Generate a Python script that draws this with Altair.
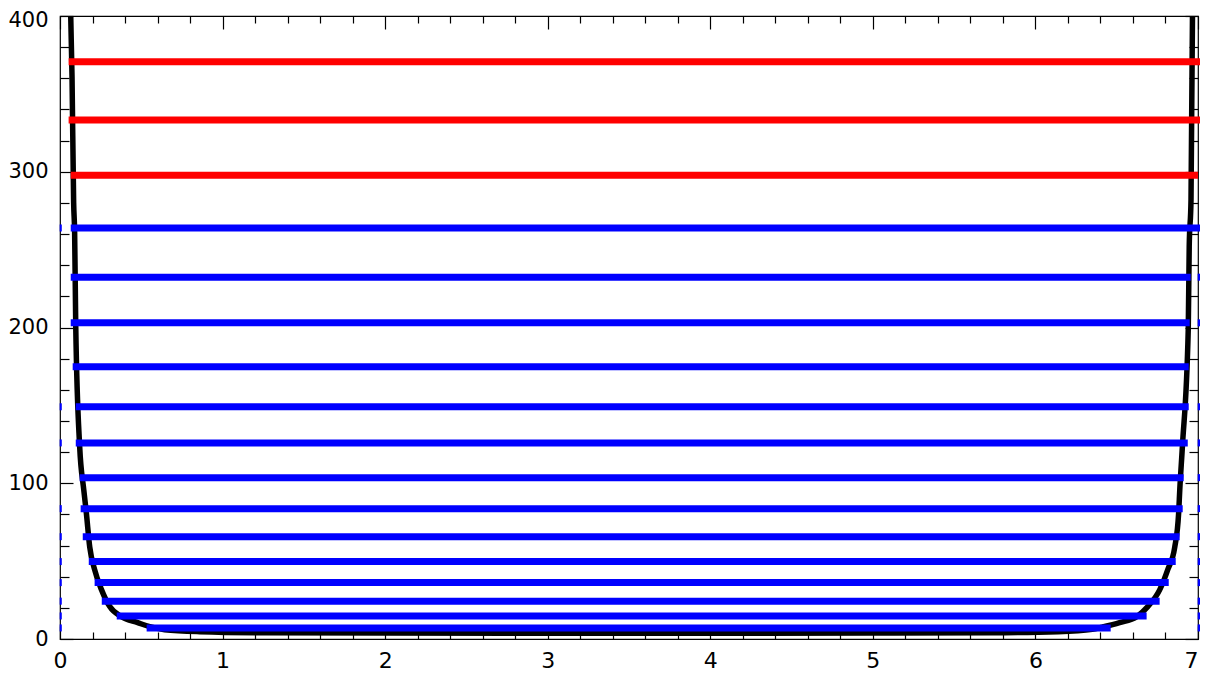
import altair as alt
import pandas as pd

# ---------------- data ----------------
# energy levels: value, left end, right end, colour class
level_E = [370.7, 333.3, 297.8, 263.9, 232.3, 203.0, 174.8, 149.1, 125.9,
           103.6, 83.7, 65.7, 49.7, 36.2, 24.3, 14.8, 7.1]
level_x1 = [0.053, 0.053, 0.066, 0.066, 0.066, 0.066, 0.078, 0.097, 0.097,
            0.121, 0.127, 0.140, 0.177, 0.213, 0.257, 0.349, 0.533]
level_x2 = [7.017, 7.017, 7.000, 7.017, 6.955, 6.949, 6.943, 6.943, 6.937,
            6.912, 6.906, 6.887, 6.863, 6.820, 6.764, 6.684, 6.463]
level_kind = ["red", "red", "red", "blue", "blue", "blue", "blue", "blue", "blue",
              "blue", "blue", "blue", "blue", "blue", "blue", "blue", "blue"]

# small blue fragments at the frame edges
left_mark_E = [263.9, 149.1, 125.9, 83.7, 65.7, 49.7, 36.2, 24.3, 14.8, 7.1]
right_mark_E = [232.3, 203.0, 149.1, 125.9, 103.6, 83.7, 65.7, 49.7, 36.2, 24.3, 14.8, 7.1]

# potential curve
curve_x = [0.066, 0.074, 0.084, 0.090, 0.097, 0.121, 0.146, 0.162, 0.183, 0.213,
           0.255, 0.306, 0.378, 0.478, 0.552, 0.644, 0.859, 1.27, 2.0, 3.5,
           5.0, 5.73, 6.14, 6.35, 6.41, 6.518, 6.623, 6.691, 6.765, 6.814,
           6.857, 6.881, 6.888, 6.904, 6.940, 6.946, 6.957, 6.966]
curve_y = [400, 361, 280, 261, 200, 123.6, 96, 81, 59, 44.5,
           31.7, 20.8, 14.3, 10.5, 7.9, 6.0, 4.7, 4.0, 3.8, 3.7,
           3.8, 4.0, 4.7, 6.2, 7.6, 10.5, 14.3, 20.8, 31.7, 44.5,
           59, 81, 96, 123.6, 198.7, 252, 282, 400]

# ticks
x_major = [0, 1, 2, 3, 4, 5, 6, 7]
x_minor = [round(i * 0.2, 1) for i in range(36) if i % 5 != 0]
y_major = [0, 100, 200, 300, 400]
y_minor = [i * 20 for i in range(21) if i % 5 != 0]

# ---------------- tables ----------------
levels_df = pd.DataFrame({"E": level_E, "x1": level_x1, "x2": level_x2, "kind": level_kind})
marks_df = pd.concat([
    pd.DataFrame({"E": left_mark_E, "m1": -0.002, "m2": 0.011}),
    pd.DataFrame({"E": right_mark_E, "m1": 6.998, "m2": 7.016}),
])
curve_df = pd.DataFrame({"x": curve_x, "y": curve_y})

W, H = 1138, 623
FONT = "DejaVu Sans"
xs = alt.Scale(domain=[0, 7], nice=False, zero=False)
ys = alt.Scale(domain=[0, 400], nice=False, zero=False)


def label_axis(orient, values, pad, size, **kw):
    return alt.Axis(orient=orient, values=values, title=None, grid=False, ticks=False,
                    domain=False, labelFont=FONT, labelFontSize=size, labelColor="black",
                    labelPadding=pad, labelFlush=False, labelOverlap=False, **kw)


def tick_axis(orient, values, size):
    return alt.Axis(orient=orient, values=values, title=None, grid=False, labels=False,
                    domain=False, ticks=True, tickSize={"expr": str(-size)},
                    tickColor="black", tickWidth=1.2)


curve = alt.Chart(curve_df).mark_line(color="black", strokeWidth=5.5, interpolate="monotone").encode(
    x=alt.X("x:Q", scale=xs, axis=label_axis(
        "bottom", x_major, 11, 22,
        labelAlign={"condition": {"test": "datum.value >= 7", "value": "right"}, "value": "center"})),
    y=alt.Y("y:Q", scale=ys, axis=label_axis(
        "left", y_major, 12, 21,
        labelOffset={"condition": {"test": "datum.value >= 400", "value": 4}, "value": 0})),
)

levels = alt.Chart(levels_df).mark_rule(strokeWidth=7).encode(
    x=alt.X("x1:Q", scale=xs, axis=tick_axis("bottom", x_major, 13)),
    x2="x2:Q",
    y=alt.Y("E:Q", scale=ys, axis=tick_axis("left", y_major, 13)),
    color=alt.Color("kind:N", scale=alt.Scale(domain=["red", "blue"], range=["#ff0000", "#0000ff"]),
                    legend=None),
)

marks = alt.Chart(marks_df).mark_rule(strokeWidth=7, color="#0000ff").encode(
    x=alt.X("m1:Q", scale=xs, axis=tick_axis("bottom", x_minor, 7)),
    x2="m2:Q",
    y=alt.Y("E:Q", scale=ys, axis=tick_axis("left", y_minor, 9)),
)

ghost_major = alt.Chart(curve_df).mark_point(opacity=0).encode(
    x=alt.X("x:Q", scale=xs, axis=tick_axis("top", x_major, 13)),
    y=alt.Y("y:Q", scale=ys, axis=tick_axis("right", y_major, 13)),
)

ghost_minor = alt.Chart(curve_df).mark_point(opacity=0).encode(
    x=alt.X("x:Q", scale=xs, axis=tick_axis("top", x_minor, 7)),
    y=alt.Y("y:Q", scale=ys, axis=tick_axis("right", y_minor, 9)),
)

chart = alt.layer(curve, levels, marks, ghost_major, ghost_minor).resolve_axis(
    x="independent", y="independent"
).properties(
    width=W, height=H,
    padding={"left": 52, "top": 8, "right": 2, "bottom": 34},
    autosize=alt.AutoSizeParams(type="none"),
    background="white",
).configure_view(stroke="black", strokeWidth=1.2)

chart.save("out.html", embed_options={"renderer": "svg", "actions": False})
